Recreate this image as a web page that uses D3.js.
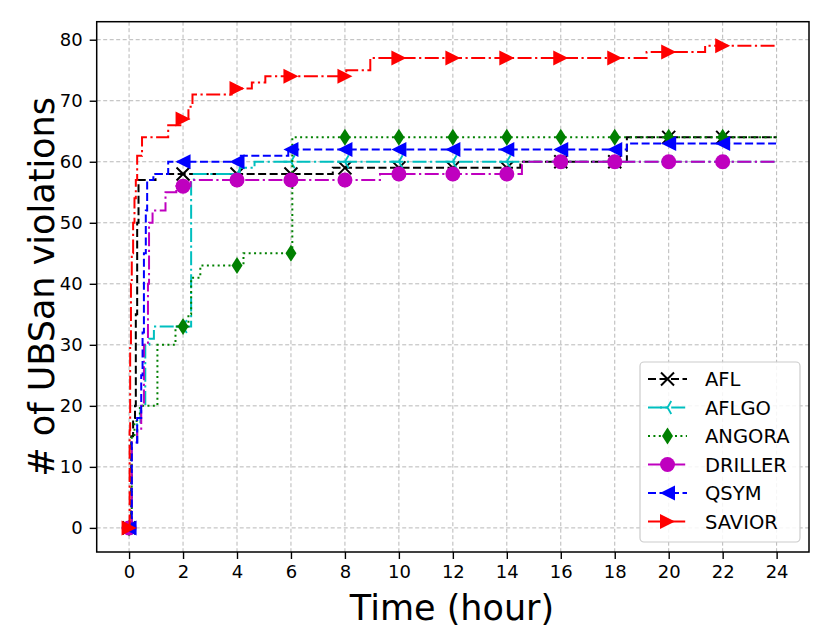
<!DOCTYPE html>
<html>
<head>
<meta charset="utf-8">
<script src="https://cdn.jsdelivr.net/npm/d3@7"></script>
<style>
  body { margin: 0; background: #fff; }
  text { font-family: "DejaVu Sans", sans-serif; }
</style>
</head>
<body>
<div id="chart"></div>
<script>
// step data: [hour, violations], each value holds until the next point
var aflSteps = [[0,0],[0.08,15],[0.15,18],[0.22,20],[0.25,35],[0.3,50],[0.35,57],[0.98,58],[7.55,59],[14.5,60],[18.45,64],[24,64]];
var aflgoSteps = [[0,0],[0.1,14],[0.3,17],[0.42,20],[0.6,30],[0.75,31],[0.92,33],[2.3,57],[2.4,58],[4.1,59],[4.65,60],[24,60]];
var angoraSteps = [[0,0],[0.1,15],[0.2,17],[0.28,18],[0.4,20],[1.05,30],[1.72,33],[2.2,35],[2.3,41],[2.64,43],[4.24,45],[6.05,64],[24,64]];
var drillerSteps = [[0,0],[0.1,14],[0.3,16],[0.45,20],[0.55,30],[0.7,40],[0.74,50],[0.87,52],[1.35,55],[1.75,56],[2.28,57],[9.3,58],[14.56,60],[24,60]];
var qsymSteps = [[0,0],[0.1,14],[0.3,18],[0.45,25],[0.5,32],[0.55,45],[0.62,52],[0.67,57],[0.9,58],[1.45,60],[4.1,61],[5.9,62],[18.45,63],[24,63]];
var saviorSteps = [[0,0],[0.02,16],[0.04,30],[0.07,40],[0.1,45],[0.15,50],[0.2,54],[0.25,57],[0.3,61],[0.48,64],[1.45,66],[1.9,67],[2.2,69],[2.35,71],[3.8,72],[4.55,73],[5.05,74],[8.05,75],[8.94,77],[19.18,78],[21.35,79],[24,79]];

var seriesNames = ["AFL", "AFLGO", "ANGORA", "DRILLER", "QSYM", "SAVIOR"];
var markerHours = [0, 2, 4, 6, 8, 10, 12, 14, 16, 18, 20, 22];
var xTicks = [0, 2, 4, 6, 8, 10, 12, 14, 16, 18, 20, 22, 24];
var yTicks = [0, 10, 20, 30, 40, 50, 60, 70, 80];

var W = 831, H = 643;
var L = 96.7, R = 809, T = 21.7, B = 552;

var svg = d3.select("#chart").append("svg")
    .attr("width", W)
    .attr("height", H);

var x = d3.scaleLinear().domain([-1.2, 25.2]).range([L, R]);
var y = d3.scaleLinear().domain([-3.95, 82.95]).range([B, T]);

// grid
svg.append("g").selectAll("line.gx").data(xTicks).enter().append("line")
    .attr("x1", d => x(d)).attr("x2", d => x(d))
    .attr("y1", T).attr("y2", B)
    .attr("stroke", "#b8b8b8").attr("stroke-width", 1).attr("stroke-dasharray", "4,2.5");
svg.append("g").selectAll("line.gy").data(yTicks).enter().append("line")
    .attr("x1", L).attr("x2", R)
    .attr("y1", d => y(d)).attr("y2", d => y(d))
    .attr("stroke", "#b8b8b8").attr("stroke-width", 1).attr("stroke-dasharray", "4,2.5");

// axes
var xAxis = svg.append("g")
    .attr("transform", "translate(0," + B + ")")
    .call(d3.axisBottom(x).tickValues(xTicks).tickSize(7).tickPadding(6));
var yAxis = svg.append("g")
    .attr("transform", "translate(" + L + ",0)")
    .call(d3.axisLeft(y).tickValues(yTicks).tickSize(7).tickPadding(7));
[xAxis, yAxis].forEach(function (a) {
    a.select(".domain").remove();
    a.selectAll(".tick line").attr("stroke", "#000").attr("stroke-width", 1.4);
    a.selectAll(".tick text").attr("font-size", 18).attr("fill", "#000")
        .attr("font-family", "DejaVu Sans");
});

// axis labels
svg.append("text")
    .attr("x", 452).attr("y", 620)
    .attr("text-anchor", "middle")
    .attr("font-size", 35)
    .text("Time (hour)");
svg.append("text")
    .attr("transform", "translate(54," + ((T + B) / 2) + ") rotate(-90)")
    .attr("text-anchor", "middle")
    .attr("font-size", 35)
    .text("# of UBSan violations");

// styles per series
var styles = {
    AFL:     {color: "#000000", dash: "8,3.5",          marker: "x"},
    AFLGO:   {color: "#00bfbf", dash: "14,3.5,2.2,3.5", marker: "tri"},
    ANGORA:  {color: "#008000", dash: "2,3.4",          marker: "diamond"},
    DRILLER: {color: "#bf00bf", dash: "14,3.5,2.2,3.5", marker: "circle"},
    QSYM:    {color: "#0000ff", dash: "8,3.5",          marker: "left"},
    SAVIOR:  {color: "#ff0000", dash: "14,3.5,2.2,3.5", marker: "right"}
};
var allSteps = [aflSteps, aflgoSteps, angoraSteps, drillerSteps, qsymSteps, saviorSteps];

function valueAt(steps, t) {
    var v = steps[0][1];
    steps.forEach(function (p) { if (p[0] <= t) v = p[1]; });
    return v;
}

function drawMarker(g, kind, cx, cy, color) {
    var s = 7.5;
    if (kind === "circle") {
        g.append("circle").attr("cx", cx).attr("cy", cy).attr("r", 7.5).attr("fill", color);
    } else if (kind === "x") {
        g.append("path")
            .attr("d", "M" + (cx - 6.5) + "," + (cy - 6.5) + "L" + (cx + 6.5) + "," + (cy + 6.5) +
                "M" + (cx - 6.5) + "," + (cy + 6.5) + "L" + (cx + 6.5) + "," + (cy - 6.5))
            .attr("stroke", color).attr("stroke-width", 2).attr("fill", "none");
    } else if (kind === "tri") {
        g.append("path")
            .attr("d", "M" + cx + "," + cy + "L" + (cx - s) + "," + cy +
                "M" + cx + "," + cy + "L" + (cx + s * 0.5) + "," + (cy - s * 0.866) +
                "M" + cx + "," + cy + "L" + (cx + s * 0.5) + "," + (cy + s * 0.866))
            .attr("stroke", color).attr("stroke-width", 1.8).attr("fill", "none");
    } else if (kind === "diamond") {
        g.append("path")
            .attr("d", "M" + cx + "," + (cy - 8.5) + "L" + (cx + 5.5) + "," + cy +
                "L" + cx + "," + (cy + 8.5) + "L" + (cx - 5.5) + "," + cy + "Z")
            .attr("fill", color);
    } else if (kind === "left") {
        g.append("path")
            .attr("d", "M" + (cx - s) + "," + cy + "L" + (cx + s) + "," + (cy - s) +
                "L" + (cx + s) + "," + (cy + s) + "Z")
            .attr("fill", color);
    } else if (kind === "right") {
        g.append("path")
            .attr("d", "M" + (cx + s) + "," + cy + "L" + (cx - s) + "," + (cy - s) +
                "L" + (cx - s) + "," + (cy + s) + "Z")
            .attr("fill", color);
    }
}

var line = d3.line()
    .x(d => x(d[0]))
    .y(d => y(d[1]))
    .curve(d3.curveStepAfter);

seriesNames.forEach(function (name, i) {
    var st = styles[name];
    var steps = allSteps[i];
    var g = svg.append("g");
    g.append("path")
        .datum(steps)
        .attr("d", line)
        .attr("fill", "none")
        .attr("stroke", st.color)
        .attr("stroke-width", 2)
        .attr("stroke-dasharray", st.dash);
    markerHours.forEach(function (t) {
        drawMarker(g, st.marker, x(t), y(valueAt(steps, t)), st.color);
    });
});

// frame
svg.append("rect")
    .attr("x", L).attr("y", T)
    .attr("width", R - L).attr("height", B - T)
    .attr("fill", "none").attr("stroke", "#000").attr("stroke-width", 1.5);

// legend
var lg = svg.append("g");
lg.append("rect")
    .attr("x", 640).attr("y", 362).attr("width", 160).attr("height", 180)
    .attr("rx", 4)
    .attr("fill", "#fff").attr("fill-opacity", 0.85)
    .attr("stroke", "#cccccc").attr("stroke-width", 1.2);
seriesNames.forEach(function (name, i) {
    var st = styles[name];
    var ly = 379 + i * 28.5;
    lg.append("line")
        .attr("x1", 648).attr("x2", 687).attr("y1", ly).attr("y2", ly)
        .attr("stroke", st.color).attr("stroke-width", 2)
        .attr("stroke-dasharray", st.dash);
    drawMarker(lg, st.marker, 667.5, ly, st.color);
    lg.append("text")
        .attr("x", 705).attr("y", ly)
        .attr("dy", "0.36em")
        .attr("font-size", 19.5)
        .text(name);
});
</script>
</body>
</html>
